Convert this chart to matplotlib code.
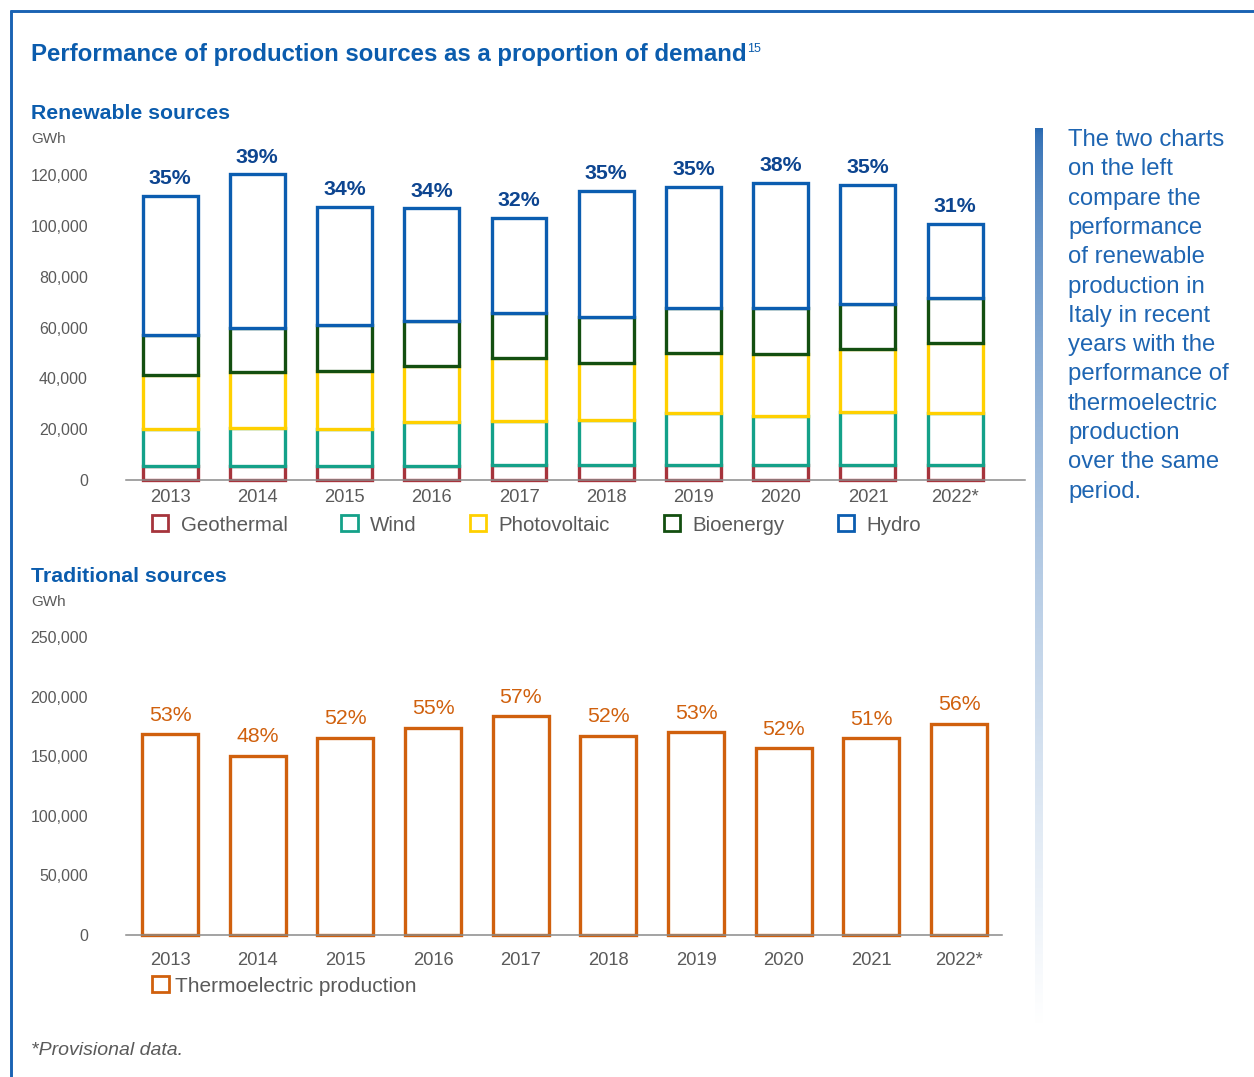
import matplotlib
matplotlib.use('Agg')
import matplotlib.pyplot as plt
from matplotlib.patches import Patch
from matplotlib.lines import Line2D
from matplotlib.colors import to_rgb
import numpy as np

# ---------------- data ----------------
years = ['2013', '2014', '2015', '2016', '2017', '2018', '2019', '2020', '2021', '2022*']
geothermal = [5500, 5500, 5500, 5500, 6000, 6000, 6000, 6000, 6000, 6000]
wind = [14500, 14900, 14500, 17500, 17200, 17600, 20400, 19200, 20800, 20400]
photovoltaic = [21400, 22100, 23100, 22000, 24800, 22400, 23600, 24400, 24700, 27500]
bioenergy = [15700, 17400, 17800, 17800, 17700, 18100, 17700, 18100, 17700, 17700]
hydro = [54700, 60500, 46800, 44200, 37600, 49700, 47800, 49400, 47000, 29400]
renew_pct = [35, 39, 34, 34, 32, 35, 35, 38, 35, 31]

thermo = [168600, 150200, 165300, 173900, 183700, 167200, 170000, 156600, 165000, 177000]
thermo_pct = [53, 48, 52, 55, 57, 52, 53, 52, 51, 56]

renew_ticks = [0, 20000, 40000, 60000, 80000, 100000, 120000]
thermo_ticks = [0, 50000, 100000, 150000, 200000, 250000]

renew_names = ['Geothermal', 'Wind', 'Photovoltaic', 'Bioenergy', 'Hydro']
renew_series = [geothermal, wind, photovoltaic, bioenergy, hydro]
renew_colors = ['#A6343C', '#14A189', '#FFD000', '#134F10', '#0B5DB0']
thermo_name = 'Thermoelectric production'
thermo_color = '#D0600D'

title = 'Performance of production sources as a proportion of demand'
side_lines = ['The two charts', 'on the left', 'compare the', 'performance',
              'of renewable', 'production in', 'Italy in recent', 'years with the',
              'performance of', 'thermoelectric', 'production', 'over the same', 'period.']

# ---------------- style ----------------
plt.rcParams['font.family'] = ['Liberation Sans', 'DejaVu Sans']
BLUE = '#0B5CAD'
GREY = '#5A5A5A'
AXIS = '#8A8A8A'

W, H = 1254, 1077
def fx(px): return px / W
def fy(py): return 1 - py / H

fig = plt.figure(figsize=(W / 100, H / 100), dpi=100)

# frame lines
fig.add_artist(Line2D([fx(9.5), 1], [fy(10.7), fy(10.7)], transform=fig.transFigure,
                      color='#1A63B3', lw=2.1, solid_capstyle='butt'))
fig.add_artist(Line2D([fx(10.7), fx(10.7)], [fy(9.5), 0], transform=fig.transFigure,
                      color='#1A63B3', lw=2.1, solid_capstyle='butt'))

# titles
t = fig.text(fx(31), fy(61), title, fontsize=17.3, fontweight='bold', color=BLUE, va='baseline')
fig.canvas.draw()
bb = t.get_window_extent()
fig.text((bb.x1 + 0.5) / W, fy(52), '15', fontsize=9, color=BLUE, va='baseline')

fig.text(fx(31), fy(119), 'Renewable sources', fontsize=15.3, fontweight='bold', color=BLUE, va='baseline')
fig.text(fx(31), fy(143), 'GWh', fontsize=11, color=GREY, va='baseline')
fig.text(fx(31), fy(582), 'Traditional sources', fontsize=15.3, fontweight='bold', color=BLUE, va='baseline')
fig.text(fx(31), fy(606), 'GWh', fontsize=11, color=GREY, va='baseline')
fig.text(fx(31), fy(1055), '*Provisional data.', fontsize=14, style='italic', color=GREY, va='baseline')

def style_axes(ax, xpad):
    for s in ['top', 'right', 'left']:
        ax.spines[s].set_visible(False)
    ax.spines['bottom'].set_color(AXIS)
    ax.spines['bottom'].set_linewidth(1.1)
    ax.tick_params(axis='y', length=0, pad=27.4, labelsize=11.5, labelcolor=GREY)
    ax.tick_params(axis='x', length=0, pad=xpad, labelsize=13.2, labelcolor=GREY)
    ax.set_facecolor('none')

x = np.arange(len(years))

# ---------------- renewable chart ----------------
ax1 = fig.add_axes([fx(126), fy(480), fx(1025) - fx(126), (480 - 145) / H])
bottom = np.zeros(len(years))
for vals, col in zip(renew_series, renew_colors):
    ax1.bar(x, vals, 0.63, bottom=bottom, facecolor='white', edgecolor=col,
            linewidth=2.4, clip_on=False)
    bottom = bottom + np.array(vals)
for xi, tot, p in zip(x, bottom, renew_pct):
    ax1.annotate(f'{p}%', (xi, tot), xytext=(0, 8.5), textcoords='offset points',
                 ha='center', va='baseline', fontsize=15.3, fontweight='bold', color='#0D4590')
ax1.set_xlim(-0.505, 9.8)
ax1.set_ylim(0, 132000)
ax1.set_yticks(renew_ticks)
ax1.set_yticklabels([f'{v:,}' for v in renew_ticks])
ax1.set_xticks(x)
ax1.set_xticklabels(years)
style_axes(ax1, 6.5)
handles = [Patch(facecolor='white', edgecolor=c, linewidth=2) for c in renew_colors]
ax1.legend(handles, renew_names, loc='center left', bbox_to_anchor=(fx(152), fy(525)),
           bbox_transform=fig.transFigure, ncol=5, frameon=False, fontsize=14.8,
           handlelength=0.8, handleheight=0.8, handletextpad=0.6, columnspacing=2.6,
           borderpad=0, borderaxespad=0, labelcolor=GREY)

# ---------------- thermoelectric chart ----------------
ax2 = fig.add_axes([fx(126), fy(935), fx(1002) - fx(126), (935 - 625) / H])
ax2.bar(x, thermo, 0.64, facecolor='white', edgecolor=thermo_color, linewidth=2.4, clip_on=False)
for xi, v, p in zip(x, thermo, thermo_pct):
    ax2.annotate(f'{p}%', (xi, v), xytext=(0, 9.7), textcoords='offset points',
                 ha='center', va='baseline', fontsize=15.3, color=thermo_color)
ax2.set_xlim(-0.502, 9.49)
ax2.set_ylim(0, 260000)
ax2.set_yticks(thermo_ticks)
ax2.set_yticklabels([f'{v:,}' for v in thermo_ticks])
ax2.set_xticks(x)
ax2.set_xticklabels(years)
style_axes(ax2, 12.5)
ax2.legend([Patch(facecolor='white', edgecolor=thermo_color, linewidth=2)], [thermo_name],
           loc='center left', bbox_to_anchor=(fx(152), fy(986)), bbox_transform=fig.transFigure,
           frameon=False, fontsize=15, handlelength=0.8, handleheight=0.8, handletextpad=0.3,
           borderpad=0, borderaxespad=0, labelcolor=GREY)

# ---------------- side note ----------------
gax = fig.add_axes([fx(1035), fy(1025), 8 / W, (1025 - 128) / H])
n = 256
tt = np.linspace(0, 1, n) ** 0.6
c0 = np.array(to_rgb('#2A6AB2'))
grad = c0[None, :] * (1 - tt[:, None]) + np.ones(3)[None, :] * tt[:, None]
gax.imshow(grad[:, None, :], aspect='auto', interpolation='bilinear')
gax.axis('off')

for i, line in enumerate(side_lines):
    fig.text(fx(1068), fy(146 + i * 29.3), line, fontsize=17.2, color='#1E65B2', va='baseline')

fig.savefig('out.png', dpi=100)
